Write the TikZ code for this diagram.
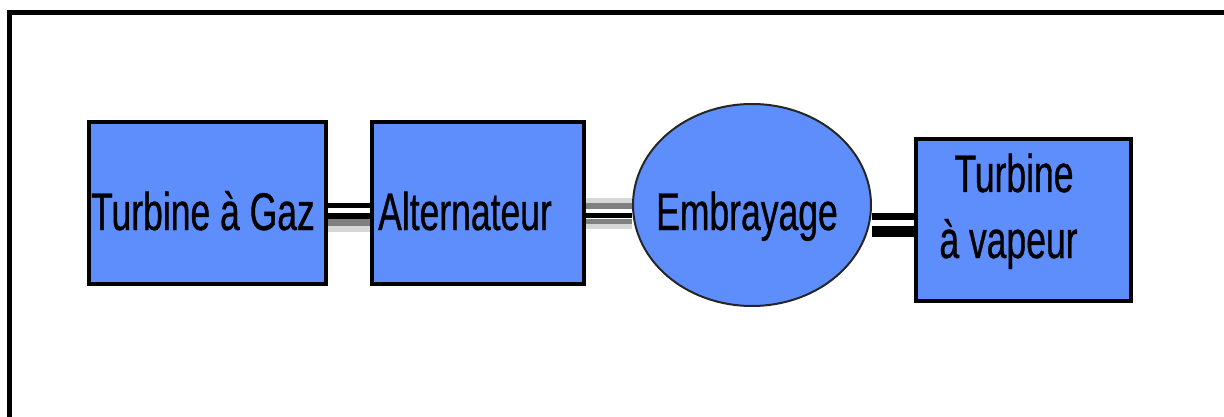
\documentclass[tikz,border=0pt]{standalone}
\usepackage{fontspec}
\usetikzlibrary{shapes.geometric,backgrounds}
\newfontfamily\lab[FakeStretch=0.67,FakeBold=0.6]{Liberation Sans}
\definecolor{partblue}{RGB}{94,142,252}
\definecolor{shaftgray}{RGB}{128,128,128}
\definecolor{shaftlight}{RGB}{215,215,215}
\tikzset{
  part/.style={draw=black, line width=4pt, fill=partblue, inner sep=0pt,
    minimum height=162pt},
  clutch/.style={ellipse, draw=black!85, line width=2pt, fill=partblue,
    inner sep=0pt, minimum width=238pt, minimum height=202pt},
  txt/.style={anchor=base, inner sep=0pt, font=\lab\fontsize{53}{66}\selectfont},
  frameline/.style={line width=5pt, line join=miter},
}
\begin{document}
\begin{tikzpicture}[x=1pt, y=-1pt]
\useasboundingbox (0,0) rectangle (1224,417);

% outer frame (top and left edges)
\draw[frameline] (9.5,417) -- (9.5,12.5) -- (1224,12.5);

% components
\node[part, minimum width=237pt] (tg)  at (207.5,203) {};
\node[part, minimum width=212pt] (alt) at (478,203) {};
\node[clutch] (emb) at (752,205) {};
\node[part, minimum width=215pt] (tv)  at (1023.5,220) {};

% labels
\node[txt] (tg-l)  at (203,230)  {Turbine à Gaz};
\node[txt] (alt-l) at (465,230)  {Alternateur};
\node[txt] (emb-l) at (747,230)  {Embrayage};
\node[txt] (tv-l1) at (1014,192) {Turbine};
\node[txt] (tv-l2) at (1008.5,258) {à vapeur};

% shafts between components
\begin{scope}[on background layer]
  \foreach \dy/\w/\c in {-2.5/5/black, -13/6/black, -19.5/7/shaftgray, -26/6/shaftlight}
    \draw[line width=\w pt, draw=\c] ([yshift=\dy pt]tg.east) coordinate (p) -- (p -| alt.west);
  \foreach \dy/\w/\c in {2.5/5/shaftlight, -3/6/shaftgray, -12.5/5/black, -19/6/shaftgray, -23.5/5/shaftlight}
    \draw[line width=\w pt, draw=\c] ([yshift=\dy pt]alt.east) coordinate (p) -- (p -| emb.west);
  \foreach \dy/\w/\c in {-11.5/7/black, -26.5/11/black}
    \draw[line width=\w pt, draw=\c] ([yshift=\dy pt]emb.east) coordinate (p) -- (p -| tv.west);
\end{scope}
\end{tikzpicture}
\end{document}
